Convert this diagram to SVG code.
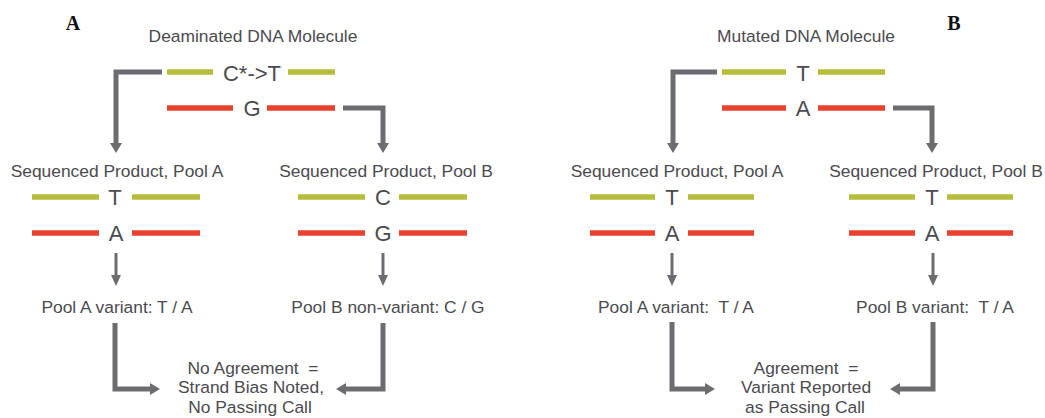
<svg xmlns="http://www.w3.org/2000/svg" width="1045" height="418" viewBox="0 0 1045 418">
  <style>
    .lbl { font-family: "Liberation Sans", Arial, sans-serif; font-size: 17.4px; fill: #4b4b4f; text-anchor: middle; white-space: pre; }
    .base { font-family: "Liberation Sans", Arial, sans-serif; font-size: 22px; fill: #4b4b4f; text-anchor: middle; }
    .panel { font-family: "Liberation Serif", "Times New Roman", serif; font-size: 20px; font-weight: bold; fill: #111; text-anchor: middle; }
    .top { stroke: #b5bd3b; stroke-width: 5.5; }
    .bot { stroke: #e8412d; stroke-width: 5.5; }
    .conn { fill: none; stroke: #6d6d71; stroke-width: 5; stroke-linejoin: miter; }
    .step { fill: none; stroke: #6d6d71; stroke-width: 3; }
  </style>
  <defs>
    <marker id="head" markerUnits="userSpaceOnUse" viewBox="0 0 10 12" refX="0" refY="6" markerWidth="10" markerHeight="12" orient="auto">
      <path d="M0,0 L10,6 L0,12 z" fill="#6d6d71"/>
    </marker>
    <marker id="small" markerUnits="userSpaceOnUse" viewBox="0 0 11 10" refX="0" refY="5" markerWidth="11" markerHeight="10" orient="auto">
      <path d="M0,0 L11,5 L0,10 z" fill="#6d6d71"/>
    </marker>
  </defs>

  <rect width="1045" height="418" fill="#ffffff"/>

  <!-- panel letters -->
  <text class="panel" x="73" y="30">A</text>
  <text class="panel" x="954" y="30">B</text>

  <!-- ===== Panel A ===== -->
  <g id="a-molecule">
    <text class="lbl" x="253" y="42">Deaminated DNA Molecule</text>
    <line class="top" x1="167" y1="72" x2="213" y2="72"/>
    <text class="base" x="252" y="81">C*-&gt;T</text>
    <line class="top" x1="288" y1="72" x2="335" y2="72"/>
    <line class="bot" x1="167" y1="108" x2="233" y2="108"/>
    <text class="base" x="252" y="116">G</text>
    <line class="bot" x1="267" y1="108" x2="335" y2="108"/>
  </g>

  <g id="a-pool-a">
    <text class="lbl" x="117" y="177">Sequenced Product, Pool A</text>
    <line class="top" x1="32" y1="197" x2="99" y2="197"/>
    <text class="base" x="115" y="205">T</text>
    <line class="top" x1="132" y1="197" x2="200" y2="197"/>
    <line class="bot" x1="32" y1="233" x2="99" y2="233"/>
    <text class="base" x="116" y="241">A</text>
    <line class="bot" x1="132" y1="233" x2="200" y2="233"/>
  </g>

  <g id="a-pool-b">
    <text class="lbl" x="386" y="177">Sequenced Product, Pool B</text>
    <line class="top" x1="298" y1="197" x2="365" y2="197"/>
    <text class="base" x="383" y="205">C</text>
    <line class="top" x1="399" y1="197" x2="467" y2="197"/>
    <line class="bot" x1="298" y1="233" x2="365" y2="233"/>
    <text class="base" x="383" y="241">G</text>
    <line class="bot" x1="399" y1="233" x2="467" y2="233"/>
  </g>

  <g id="a-call-a">
    <text class="lbl" x="117" y="313">Pool A variant: T / A</text>
  </g>
  <g id="a-call-b">
    <text class="lbl" x="388" y="313">Pool B non-variant: C / G</text>
  </g>

  <g id="a-result">
    <text class="lbl" x="253" y="374">No Agreement  =</text>
    <text class="lbl" x="251" y="393">Strand Bias Noted,</text>
    <text class="lbl" x="250" y="413">No Passing Call</text>
  </g>

  <!-- ===== Panel B ===== -->
  <g id="b-molecule">
    <text class="lbl" x="806" y="42">Mutated DNA Molecule</text>
    <line class="top" x1="722" y1="72" x2="786" y2="72"/>
    <text class="base" x="803" y="81">T</text>
    <line class="top" x1="818" y1="72" x2="885" y2="72"/>
    <line class="bot" x1="722" y1="108" x2="786" y2="108"/>
    <text class="base" x="803" y="116">A</text>
    <line class="bot" x1="818" y1="108" x2="885" y2="108"/>
  </g>

  <g id="b-pool-a">
    <text class="lbl" x="677" y="177">Sequenced Product, Pool A</text>
    <line class="top" x1="590" y1="197" x2="655" y2="197"/>
    <text class="base" x="672" y="205">T</text>
    <line class="top" x1="688" y1="197" x2="754" y2="197"/>
    <line class="bot" x1="590" y1="233" x2="655" y2="233"/>
    <text class="base" x="672" y="241">A</text>
    <line class="bot" x1="688" y1="233" x2="754" y2="233"/>
  </g>

  <g id="b-pool-b">
    <text class="lbl" x="936" y="177">Sequenced Product, Pool B</text>
    <line class="top" x1="849" y1="197" x2="915" y2="197"/>
    <text class="base" x="932" y="205">T</text>
    <line class="top" x1="947" y1="197" x2="1013" y2="197"/>
    <line class="bot" x1="849" y1="233" x2="915" y2="233"/>
    <text class="base" x="932" y="241">A</text>
    <line class="bot" x1="947" y1="233" x2="1013" y2="233"/>
  </g>

  <g id="b-call-a">
    <text class="lbl" x="676" y="313">Pool A variant:  T / A</text>
  </g>
  <g id="b-call-b">
    <text class="lbl" x="935" y="313">Pool B variant:  T / A</text>
  </g>

  <g id="b-result">
    <text class="lbl" x="806" y="374">Agreement  =</text>
    <text class="lbl" x="806" y="393">Variant Reported</text>
    <text class="lbl" x="805" y="413">as Passing Call</text>
  </g>

  <!-- connectors -->
  <g id="connectors">
    <!-- panel A -->
    <path class="conn" d="M162,72 H116 V143" marker-end="url(#head)"/>
    <path class="conn" d="M343,108 H383 V143" marker-end="url(#head)"/>
    <path class="step" d="M116,253 V275" marker-end="url(#small)"/>
    <path class="step" d="M383,253 V275" marker-end="url(#small)"/>
    <path class="conn" d="M115,323 V389 H150" marker-end="url(#head)"/>
    <path class="conn" d="M383,323 V389 H346" marker-end="url(#head)"/>
    <!-- panel B -->
    <path class="conn" d="M717,72 H673 V143" marker-end="url(#head)"/>
    <path class="conn" d="M893,108 H932 V143" marker-end="url(#head)"/>
    <path class="step" d="M672,253 V275" marker-end="url(#small)"/>
    <path class="step" d="M933,253 V275" marker-end="url(#small)"/>
    <path class="conn" d="M672,322 V389 H705" marker-end="url(#head)"/>
    <path class="conn" d="M933,322 V389 H900" marker-end="url(#head)"/>
  </g>
</svg>
